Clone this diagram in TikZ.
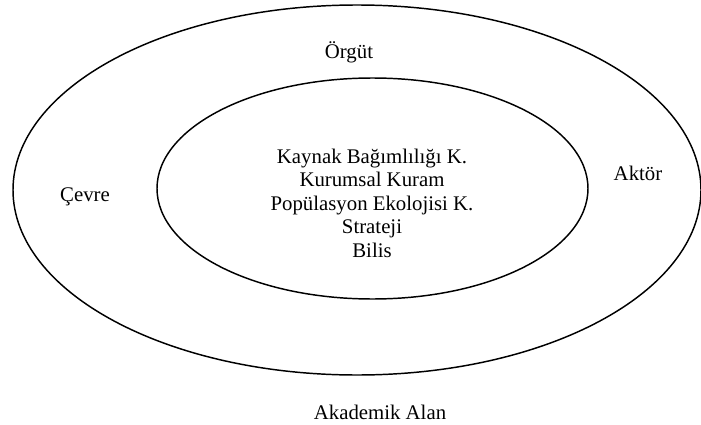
\documentclass[tikz,border=0pt]{standalone}
\usepackage{fontspec}
\setmainfont{Liberation Serif}
\usetikzlibrary{shapes.geometric}
\begin{document}
\begin{tikzpicture}[x=0.75pt,y=-0.75pt,
  ring/.style={draw, ellipse, line width=1.1pt, inner sep=0pt},
  lbl/.style={font=\fontsize{15.6}{18}\selectfont, inner sep=0pt},
  theory/.style={lbl, align=center, font=\fontsize{15.6}{17.6}\selectfont}]
\useasboundingbox (0,0) rectangle (701,425);
% outer ring: the field, inner ring: the organisation's theories
\node[ring, minimum width=516pt, minimum height=277.5pt] (field) at (357,190) {};
\node[ring, minimum width=323.25pt, minimum height=165.75pt] (org) at (372.5,188.5) {};
\node[theory] (theories) at (372,203) {Kaynak Bağımlılığı K.\\Kurumsal Kuram\\Popülasyon Ekolojisi K.\\Strateji\\Bilis};
\node[lbl] (orgut) at (349,52) {Örgüt};
\node[lbl] (cevre) at (85,197) {Çevre};
\node[lbl] (aktor) at (638,173) {Aktör};
\node[lbl] (alan) at (380,412) {Akademik Alan};
\end{tikzpicture}
\end{document}
